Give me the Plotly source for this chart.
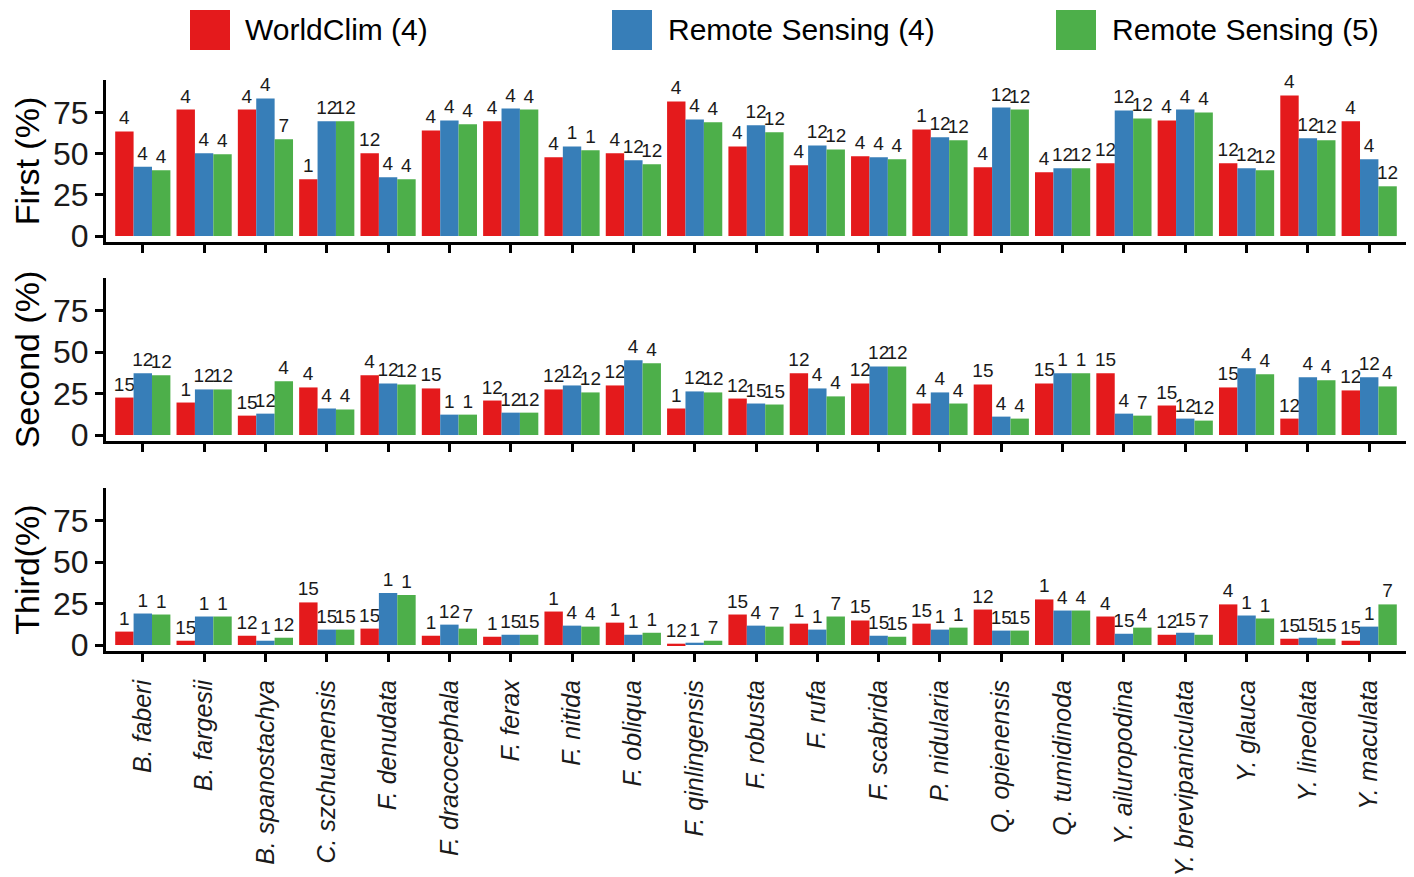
import plotly.graph_objects as go

# Species on the shared category axis
species = [
    "B. faberi", "B. fargesii", "B. spanostachya", "C. szchuanensis", "F. denudata",
    "F. dracocephala", "F. ferax", "F. nitida", "F. obliqua", "F. qinlingensis",
    "F. robusta", "F. rufa", "F. scabrida", "P. nidularia", "Q. opienensis",
    "Q. tumidinoda", "Y. ailuropodina", "Y. brevipaniculata", "Y. glauca",
    "Y. lineolata", "Y. maculata",
]

series_names = ["WorldClim (4)", "Remote Sensing (4)", "Remote Sensing (5)"]
series_colors = ["#E41A1C", "#377EB8", "#4DAF4A"]

# First-ranked variable contribution (%)
first_wc4 = [63.5, 76.8, 76.8, 34.5, 50.2, 64.1, 69.6, 47.8, 50.2, 81.7, 54.4,
             43.0, 48.4, 64.7, 41.7, 38.7, 44.2, 70.2, 44.2, 85.3, 69.6]
first_rs4 = [42.0, 50.2, 83.5, 69.6, 35.7, 70.2, 77.4, 54.4, 46.0, 70.8, 67.2,
             55.0, 47.8, 59.9, 78.0, 41.1, 76.2, 76.8, 41.1, 59.3, 46.6]
first_rs5 = [40.0, 49.6, 58.7, 69.6, 34.5, 67.8, 76.8, 52.0, 43.6, 69.0, 63.0,
             52.6, 46.6, 58.1, 76.8, 41.1, 71.4, 75.0, 40.0, 58.1, 30.2]
first_lab_wc4 = ["4", "4", "4", "1", "12", "4", "4", "4", "4", "4", "4",
                 "4", "4", "1", "4", "4", "12", "4", "12", "4", "4"]
first_lab_rs4 = ["4", "4", "4", "12", "4", "4", "4", "1", "12", "4", "12",
                 "12", "4", "12", "12", "12", "12", "4", "12", "12", "4"]
first_lab_rs5 = ["4", "4", "7", "12", "4", "4", "4", "1", "12", "4", "12",
                 "12", "4", "12", "12", "12", "12", "4", "12", "12", "12"]

# Second-ranked variable contribution (%)
second_wc4 = [22.6, 19.6, 11.7, 28.7, 36.0, 28.1, 20.8, 27.5, 29.9, 16.0, 22.0,
              37.2, 31.1, 19.0, 30.5, 31.1, 37.2, 17.8, 28.7, 9.9, 26.9]
second_rs4 = [37.2, 27.5, 12.9, 16.0, 31.1, 12.3, 13.5, 29.9, 45.1, 26.3, 19.0,
              28.1, 41.4, 25.7, 11.1, 37.2, 12.9, 9.9, 40.2, 34.8, 34.8]
second_rs5 = [36.0, 27.5, 32.4, 15.4, 30.5, 12.3, 13.5, 25.7, 43.3, 25.7, 18.4,
              23.3, 41.4, 19.0, 9.9, 37.2, 11.7, 8.7, 36.6, 33.0, 29.3]
second_lab_wc4 = ["15", "1", "15", "4", "4", "15", "12", "12", "12", "1", "12",
                  "12", "12", "4", "15", "15", "15", "15", "15", "12", "12"]
second_lab_rs4 = ["12", "12", "12", "4", "12", "1", "12", "12", "4", "12", "15",
                  "4", "12", "4", "4", "1", "4", "12", "4", "4", "12"]
second_lab_rs5 = ["12", "12", "4", "4", "12", "1", "12", "12", "4", "12", "15",
                  "4", "12", "4", "4", "1", "7", "12", "4", "4", "4"]

# Third-ranked variable contribution (%)
third_wc4 = [8.1, 2.6, 5.6, 25.7, 9.9, 5.6, 5.0, 20.2, 13.5, 0.8, 18.4,
             12.9, 14.8, 12.9, 21.4, 27.5, 17.2, 6.2, 24.5, 3.8, 2.6]
third_rs4 = [19.0, 17.2, 2.6, 9.3, 31.4, 12.3, 6.2, 11.7, 6.2, 1.4, 11.7,
             9.3, 5.6, 9.3, 8.7, 20.8, 6.8, 7.4, 17.8, 4.4, 11.1]
third_rs5 = [18.4, 17.2, 4.4, 9.3, 30.2, 9.9, 6.2, 11.1, 7.4, 2.6, 11.1,
             17.2, 5.0, 10.5, 8.7, 20.8, 10.5, 6.2, 16.0, 3.8, 24.5]
third_lab_wc4 = ["1", "15", "12", "15", "15", "1", "1", "1", "1", "12", "15",
                 "1", "15", "15", "12", "1", "4", "12", "4", "15", "15"]
third_lab_rs4 = ["1", "1", "1", "15", "1", "12", "15", "4", "1", "1", "4",
                 "1", "15", "1", "15", "4", "15", "15", "1", "15", "1"]
third_lab_rs5 = ["1", "1", "12", "15", "1", "7", "15", "4", "1", "7", "7",
                 "7", "15", "1", "15", "4", "4", "7", "1", "15", "7"]

panels = [
    ("First (%)", [first_wc4, first_rs4, first_rs5],
     [first_lab_wc4, first_lab_rs4, first_lab_rs5]),
    ("Second (%)", [second_wc4, second_rs4, second_rs5],
     [second_lab_wc4, second_lab_rs4, second_lab_rs5]),
    ("Third(%)", [third_wc4, third_rs4, third_rs5],
     [third_lab_wc4, third_lab_rs4, third_lab_rs5]),
]

FONT = "Liberation Sans, Arial, sans-serif"
W, H = 1414, 877
ML, MR, MT, MB = 106, 8, 80, 226
PW, PH = W - ML - MR, H - MT - MB

def px_x(x):
    return (x - ML) / PW

def px_y(y):
    return (H - MB - y) / PH

# Panel vertical extents in pixels (top, bottom)
panel_px = [(80, 242), (278, 441), (488, 651)]

fig = go.Figure()
layout = {}
for i, (title, vals, labs) in enumerate(panels):
    k = "" if i == 0 else str(i + 1)
    for s in range(3):
        fig.add_trace(go.Bar(
            x=species, y=vals[s], text=labs[s],
            name=series_names[s], marker_color=series_colors[s],
            marker_line_width=0,
            textposition="outside", textangle=0, constraintext="none",
            cliponaxis=False,
            textfont=dict(family=FONT, size=19, color="#1a1a1a"),
            offsetgroup=str(s), showlegend=False,
            xaxis="x" + k, yaxis="y" + k,
            hoverinfo="skip",
        ))
    top, bot = panel_px[i]
    layout["xaxis" + k] = dict(
        domain=[0, 1], anchor="y" + k, type="category",
        categoryorder="array", categoryarray=species,
        range=[-0.6, 20.6], showline=True, linecolor="black", linewidth=3,
        ticks="outside", ticklen=8, tickwidth=2.5, tickcolor="black",
        showgrid=False, zeroline=False, automargin=False,
        showticklabels=(i == 2), tickangle=-90, ticklabelstandoff=8,
        tickfont=dict(family=FONT, size=25, color="#1a1a1a", style="italic"),
    )
    layout["yaxis" + k] = dict(
        domain=[px_y(bot), px_y(top)], anchor="x" + k,
        range=[-3.6, 94.7], tickvals=[0, 25, 50, 75],
        showline=True, linecolor="black", linewidth=3,
        ticks="outside", ticklen=8, tickwidth=2.5, tickcolor="black",
        showgrid=False, zeroline=False, automargin=False,
        tickfont=dict(family=FONT, size=32, color="#1a1a1a"),
        title=dict(text=title, font=dict(family=FONT, size=34, color="black"),
                   standoff=4),
    )

# Legend row drawn across the top
legend_px = [(190, 243), (612, 666), (1056, 1110)]
shapes, annotations = [], []
for s, (sx, tx) in enumerate(legend_px):
    shapes.append(dict(type="rect", xref="paper", yref="paper",
                       x0=px_x(sx), x1=px_x(sx + 40), y0=px_y(50), y1=px_y(10),
                       fillcolor=series_colors[s], line_width=0))
    annotations.append(dict(xref="paper", yref="paper", x=px_x(tx), y=px_y(30),
                            xanchor="left", yanchor="middle", showarrow=False,
                            text=series_names[s],
                            font=dict(family=FONT, size=30, color="black")))

fig.update_layout(
    width=W, height=H, margin=dict(l=ML, r=MR, t=MT, b=MB, autoexpand=False),
    barmode="group", bargap=0.1, bargroupgap=0,
    plot_bgcolor="white", paper_bgcolor="white",
    shapes=shapes, annotations=annotations, showlegend=False,
    **layout,
)

fig.write_html("out.html")
